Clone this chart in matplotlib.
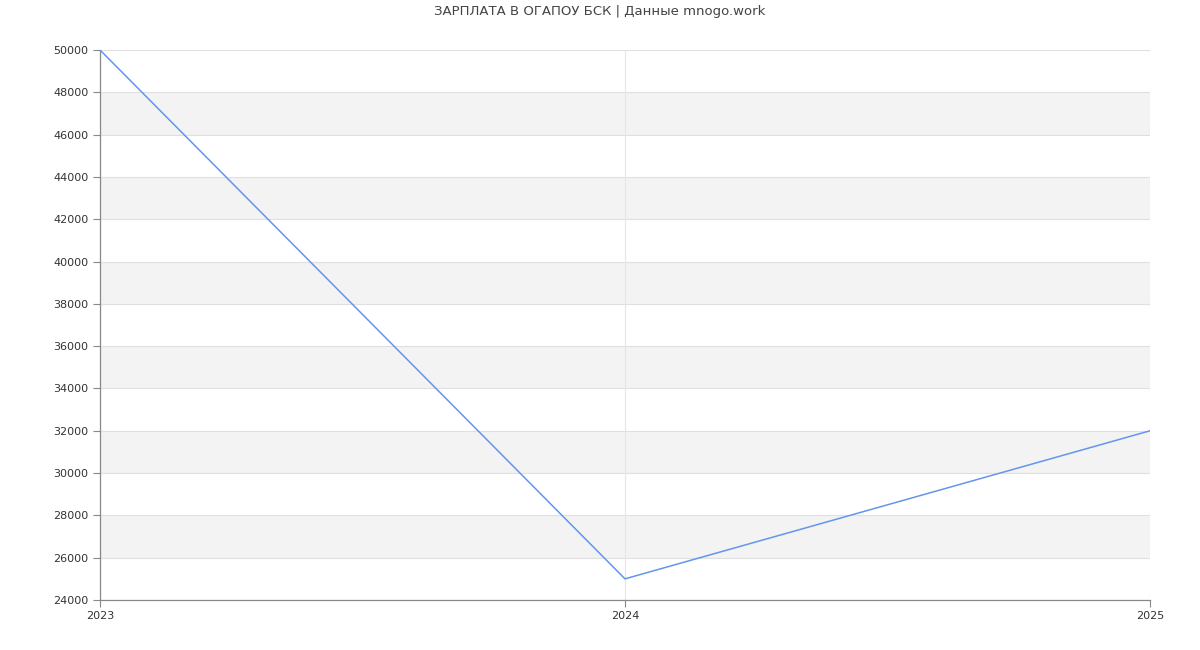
import matplotlib
matplotlib.use("Agg")
import matplotlib.pyplot as plt
import numpy as np

years = [2023, 2024, 2025]
salary = [50000, 25000, 32000]
yticks = np.arange(24000, 50001, 2000)

fig = plt.figure(figsize=(12, 6.5), dpi=100)
ax = fig.add_axes([100 / 1200, 50 / 650, 1050 / 1200, 550 / 650])

# alternating bands
for lo in range(26000, 50000, 4000):
    ax.axhspan(lo, lo + 2000, color="#f3f3f3", zorder=0, lw=0)

for y in yticks:
    ax.axhline(y, color="#e0e0e0", lw=0.8, zorder=1)
for x in years:
    ax.axvline(x, color="#e6e6e6", lw=0.8, zorder=1)

ax.plot(years, salary, color="#6495ed", lw=1.1, zorder=3)

ax.set_xlim(2023, 2025)
ax.set_ylim(24000, 50000)
ax.set_xticks(years)
ax.set_xticklabels([str(y) for y in years])
ax.set_yticks(yticks)
ax.set_yticklabels([str(y) for y in yticks])
ax.tick_params(axis="both", labelsize=8, colors="#333333", length=5, width=0.8, color="#888888")
ax.tick_params(axis="x", pad=3)

for s in ["top", "right"]:
    ax.spines[s].set_visible(False)
for s in ["left", "bottom"]:
    ax.spines[s].set_color("#888888")
    ax.spines[s].set_linewidth(0.9)

fig.text(0.5, 1 - 12 / 650, "ЗАРПЛАТА В ОГАПОУ БСК | Данные mnogo.work",
         ha="center", va="center", fontsize=9.5, color="#444444")

fig.savefig("out.png", dpi=100)
